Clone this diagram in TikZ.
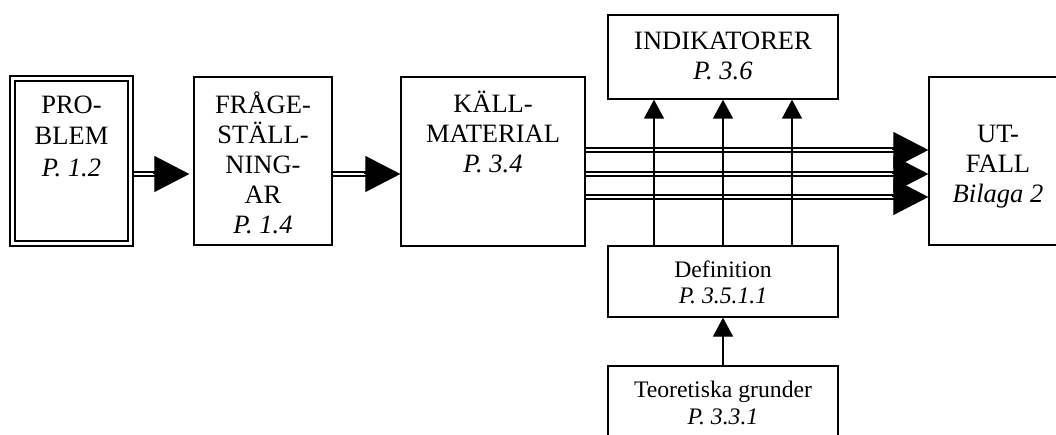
\documentclass[tikz,border=0pt]{standalone}
\usepackage{fontspec}
\setmainfont{Liberation Serif}
\usetikzlibrary{arrows.meta}
\begin{document}
\begin{tikzpicture}[x=1pt,y=-1pt,
  box/.style={draw, line width=1.3pt, inner sep=0pt},
  bigtxt/.style={font=\fontsize{26.5}{30.2}\selectfont, align=center, anchor=base, inner sep=0pt},
  smalltxt/.style={font=\fontsize{23.7}{26}\selectfont, align=center, anchor=base, inner sep=0pt},
  dbl/.style={line width=1.9pt, double=white, double distance=2.7pt},
  bigtip/.style={-{Triangle[length=35pt,width=36pt]}, line width=1pt},
  thinarrow/.style={-{Triangle[length=19pt,width=20pt]}, line width=1.3pt}
]
\clip (0,0) rectangle (1056,435);
\fill[white] (0,0) rectangle (1056,435);

% boxes
\node[box, line width=1.2pt, minimum width=123pt, minimum height=170pt] (prob) at (71.5,161) {};
\draw[line width=1.9pt] ([shift={(5.5,5.5)}]prob.north west) rectangle ([shift={(-5.5,-5.5)}]prob.south east);
\node[box, minimum width=138pt, minimum height=168pt] (fq) at (263,161) {};
\node[box, minimum width=184pt, minimum height=169pt] (kall) at (493,161.5) {};
\node[box, minimum width=230pt, minimum height=84pt] (ind) at (723,57) {};
\node[box, minimum width=138pt, minimum height=168pt] (utf) at (998,161) {};
\node[box, minimum width=230pt, minimum height=71pt] (defn) at (723,281.5) {};
\node[box, minimum width=230pt, minimum height=100pt] (teo) at (723,416) {};

% texts (anchor base = baseline of the last line)
\node[bigtxt, font=\fontsize{26.5}{31.7}\selectfont] (probt) at (71.5,176.7) {PRO-\\BLEM\\\textit{P. 1.2}};
\node[bigtxt] (fqt) at (263,234) {FRÅGE-\\STÄLL-\\NING-\\AR\\\textit{P. 1.4}};
\node[bigtxt] (kallt) at (493,173) {KÄLL-\\MATERIAL\\\textit{P. 3.4}};
\node[bigtxt] (indt) at (723,80) {INDIKATORER\\\textit{P. 3.6}};
\node[bigtxt] (utft) at (998,203) {UT-\\FALL\\\textit{Bilaga 2}};
\node[smalltxt, font=\fontsize{23.7}{25}\selectfont] (defnt) at (723,303) {Definition\\\textit{P. 3.5.1.1}};
\node[smalltxt, font=\fontsize{23.7}{27}\selectfont] (teot) at (723,424) {Teoretiska grunder\\\textit{P. 3.3.1}};

% connectors: double shafts
\draw[dbl, shorten >=37pt] ([yshift=-13pt]prob.east) -- ([yshift=-13pt]fq.west);
\draw[bigtip, shorten >=4pt] ([xshift=-40pt,yshift=-13pt]fq.west) -- ([yshift=-13pt]fq.west);
\draw[dbl, shorten >=33pt] ([yshift=-13pt]fq.east) -- ([yshift=-12.5pt]kall.west);
\draw[bigtip] ([xshift=-36pt,yshift=-12.5pt]kall.west) -- ([yshift=-12.5pt]kall.west);

\draw[dbl, shorten >=33pt] ([yshift=11.5pt]kall.east) -- ([yshift=11pt]utf.west);
\draw[dbl, shorten >=33pt] ([yshift=-12.5pt]kall.east) -- ([yshift=-13pt]utf.west);
\draw[dbl, shorten >=33pt] ([yshift=-35.5pt]kall.east) -- ([yshift=-36pt]utf.west);
\draw[bigtip] ([xshift=-36pt,yshift=11pt]utf.west) -- ([yshift=11pt]utf.west);
\draw[bigtip] ([xshift=-36pt,yshift=-13pt]utf.west) -- ([yshift=-13pt]utf.west);
\draw[bigtip] ([xshift=-36pt,yshift=-36pt]utf.west) -- ([yshift=-36pt]utf.west);

% vertical arrows
\draw[thinarrow] ([xshift=-69pt]defn.north) -- ([xshift=-69pt]ind.south);
\draw[thinarrow] (defn.north) -- (ind.south);
\draw[thinarrow] ([xshift=69pt]defn.north) -- ([xshift=69pt]ind.south);
\draw[thinarrow] (teo.north) -- (defn.south);
\end{tikzpicture}
\end{document}
